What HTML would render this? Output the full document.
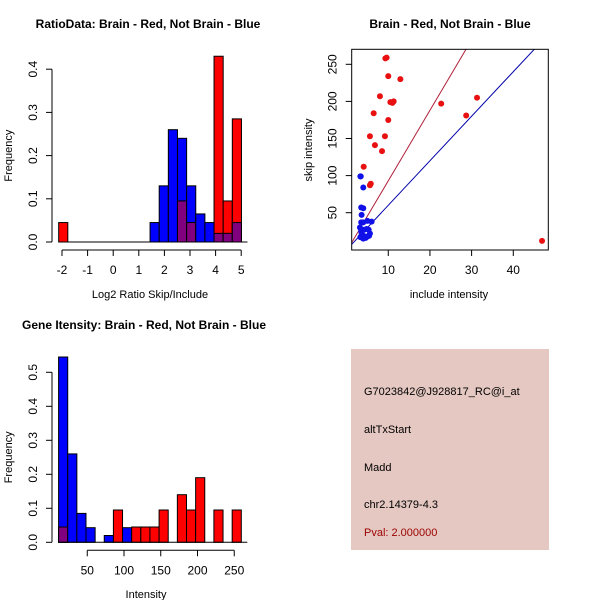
<!DOCTYPE html>
<html><head><meta charset="utf-8"><style>
body{margin:0;background:#fff}
svg{display:block;font-family:"Liberation Sans",sans-serif}
</style></head><body>
<svg id="c" width="600" height="600" viewBox="0 0 600 600">
<rect width="600" height="600" fill="#fff"/>
<g id="p1"></g>
<g id="p2"></g>
<g id="p3"></g>
<g>
<rect x="351" y="349" width="198" height="201" fill="#e5c8c1"/>
<g font-size="11">
<text x="364" y="395">G7023842@J928817_RC@i_at</text>
<text x="364" y="433">altTxStart</text>
<text x="364" y="471">Madd</text>
<text x="364" y="508">chr2.14379-4.3</text>
<text x="364" y="536" fill="#9b0000">Pval: 2.000000</text>
</g></g>
</svg>
<script>
// ---- Panel 1 data
const p1Start = -2.13, p1Width = 0.357;
const p1Blue = [0,0,0,0,0,0,0,0,0,0,0.045,0.13,0.26,0.24,0.13,0.065,0.045,0.02,0.02,0.045];
const p1Red  = [0.045,0,0,0,0,0,0,0,0,0,0,0,0,0.095,0.045,0,0,0.43,0.095,0.285];
const p1XTicks = [-2,-1,0,1,2,3,4,5];
const p1YTicks = [0,0.1,0.2,0.3,0.4];
// ---- Panel 2 data
const redX = [9.3,9.6,10,12.9,8,10.5,11,11.3,6.5,10,5.6,9.2,6.8,8.5,4.1,5.6,5.8,22.7,28.7,31.3,46.9];
const redY = [258,259,234,230,207,199,198,200,184,175,153,153,141,133,112,87,89,197,181,205,12];
const blueX = [3.3,3.4,4,3.5,4,3.6,3.5,5,6,4,3.2,3.5,4.2,4.8,5.3,5.6,3.8,4.5,5,3.3,4,4.6,5.4,3.6];
const blueY = [99,99,84,57,56,47,37,39,38,37,30,25,27,28,27,22,20,18,18,17,15,16,19,22];
const lineIntercepts = [-2,0];
const lineSlopes = [9.5,6];
const p2XTicks = [10,20,30,40];
const p2YTicks = [50,100,150,200,250];
// ---- Panel 3 data
const p3Start = 11, p3Width = 12.43;
const p3Blue = [0.545,0.26,0.085,0.043,0,0.02,0,0.043,0,0,0,0,0,0,0,0,0,0,0,0];
const p3Red  = [0.045,0,0,0,0,0,0.095,0,0.045,0.045,0.045,0.095,0,0.14,0.095,0.19,0,0.095,0,0.095];
const p3XTicks = [50,100,150,200,250];
const p3YTicks = [0,0.1,0.2,0.3,0.4,0.5];

const NS='http://www.w3.org/2000/svg';
function mk(parent,tag,attrs,text){const e=document.createElementNS(NS,tag);for(const k in attrs)e.setAttribute(k,attrs[k]);if(text!==undefined)e.textContent=text;parent.appendChild(e);return e;}

function hist(g,start,width,blue,red,sx,sy,xTicks,yTicks,axisY,yAxisX,title,titleX,titleY,xlab,xlabY){
  const y0=sy(0);
  for(let i=0;i<blue.length;i++){
    const xa=sx(start+i*width), xb=sx(start+(i+1)*width);
    const b=blue[i], r=red[i];
    if(b>0){const e=mk(g,'rect',{x:xa,y:sy(b),width:xb-xa,height:y0-sy(b),fill:'#0000ff',stroke:'#000','stroke-width':1});
      
      }
    if(r>0){const e=mk(g,'rect',{x:xa,y:sy(r),width:xb-xa,height:y0-sy(r),fill:'#ff0000',stroke:'#000','stroke-width':1});
      
      }
    const m=Math.min(b,r);
    if(m>0){const e=mk(g,'rect',{x:xa,y:sy(m),width:xb-xa,height:y0-sy(m),fill:'#800080',stroke:'#000','stroke-width':1});
      
      }
  }
  mk(g,'line',{x1:sx(start),x2:sx(start+blue.length*width)+6,y1:y0,y2:y0,stroke:'#000'});
  mk(g,'line',{x1:sx(xTicks[0]),x2:sx(xTicks[xTicks.length-1]),y1:axisY,y2:axisY,stroke:'#000'});
  xTicks.forEach(t=>{mk(g,'line',{x1:sx(t),x2:sx(t),y1:axisY,y2:axisY+6,stroke:'#000'});
    const e=mk(g,'text',{x:sx(t),y:axisY+24,'font-size':12,'text-anchor':'middle'},String(t));
    
    });
  mk(g,'line',{x1:yAxisX,x2:yAxisX,y1:sy(yTicks[0]),y2:sy(yTicks[yTicks.length-1]),stroke:'#000'});
  yTicks.forEach(t=>{mk(g,'line',{x1:yAxisX-6,x2:yAxisX,y1:sy(t),y2:sy(t),stroke:'#000'});
    const e=mk(g,'text',{x:yAxisX-15,y:sy(t),'font-size':12,'text-anchor':'middle',transform:`rotate(-90 ${yAxisX-15} ${sy(t)})`},t.toFixed(1));
    
    });
  let e=mk(g,'text',{x:titleX,y:titleY,'font-size':12,'font-weight':'bold','text-anchor':'middle'},title);
  
  
  e=mk(g,'text',{x:titleX+2,y:xlabY,'font-size':11,'text-anchor':'middle'},xlab);
  
  
  const cy=(sy(yTicks[0])+sy(yTicks[yTicks.length-1]))/2;
  e=mk(g,'text',{x:12,y:cy,'font-size':11,'text-anchor':'middle',transform:`rotate(-90 12 ${cy})`},'Frequency');
  
  
}

hist(document.getElementById('p1'),p1Start,p1Width,p1Blue,p1Red,
  v=>62+(v+2)*25.6, v=>242-v*432, p1XTicks,p1YTicks,250,52,
  'RatioData: Brain - Red, Not Brain - Blue',148,28,'Log2 Ratio Skip/Include',298);
hist(document.getElementById('p3'),p3Start,p3Width,p3Blue,p3Red,
  v=>50.5+v*0.735, v=>542.3-v*340, p3XTicks,p3YTicks,550.3,52,
  'Gene Itensity: Brain - Red, Not Brain - Blue',144,329,'Intensity',598);

(function(){
  const g=document.getElementById('p2');
  const sx=v=>346.6+v*4.167, sy=v=>249.8-v*0.742;
  const L=351.7,R=548.3,T=49.3,B=250;
  mk(g,'defs',{}).innerHTML='<clipPath id="clp"><rect x="351.7" y="49.3" width="196.6" height="200.7"/></clipPath>';
  const cg=mk(g,'g',{'clip-path':'url(#clp)'});
  const cols=['#b0203a','#0000aa'];
  const xMin=(L-346.6)/4.167, xMax=(R-346.6)/4.167;
  lineSlopes.forEach((s,i)=>{
    const e=mk(cg,'line',{x1:sx(xMin),y1:sy(lineIntercepts[i]+s*xMin),x2:sx(xMax),y2:sy(lineIntercepts[i]+s*xMax),stroke:cols[i]});
    
    
  });
  redX.forEach((x,i)=>{const e=mk(cg,'circle',{cx:sx(x),cy:sy(redY[i]),r:3,fill:'#e81010'});
    
    });
  blueX.forEach((x,i)=>{const e=mk(cg,'circle',{cx:sx(x),cy:sy(blueY[i]),r:3,fill:'#1010e8'});
    
    });
  mk(g,'rect',{x:L,y:T,width:R-L,height:B-T,fill:'none',stroke:'#000'});
  p2XTicks.forEach(t=>{mk(g,'line',{x1:sx(t),x2:sx(t),y1:B,y2:B+6,stroke:'#000'});
    const e=mk(g,'text',{x:sx(t),y:B+24,'font-size':12,'text-anchor':'middle'},String(t));
    
    });
  p2YTicks.forEach(t=>{mk(g,'line',{x1:L-6,x2:L,y1:sy(t),y2:sy(t),stroke:'#000'});
    const e=mk(g,'text',{x:L-15,y:sy(t),'font-size':12,'text-anchor':'middle',transform:`rotate(-90 ${L-15} ${sy(t)})`},String(t));
    
    });
  let e=mk(g,'text',{x:450,y:28,'font-size':12,'font-weight':'bold','text-anchor':'middle'},'Brain - Red, Not Brain - Blue');
  
  
  e=mk(g,'text',{x:449,y:298,'font-size':11,'text-anchor':'middle'},'include intensity');
  
  
  e=mk(g,'text',{x:312,y:150,'font-size':11,'text-anchor':'middle',transform:'rotate(-90 312 150)'},'skip intensity');
  
  
})();
</script>
</body></html>
